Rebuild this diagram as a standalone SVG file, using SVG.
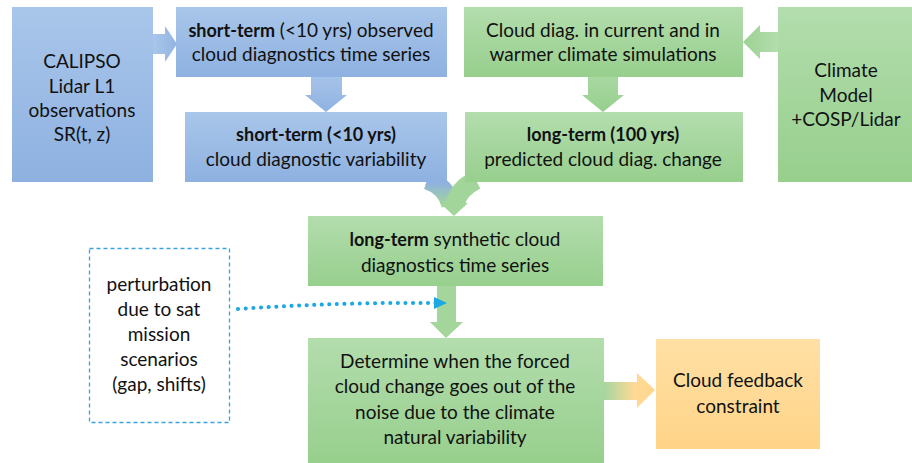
<svg xmlns="http://www.w3.org/2000/svg" width="912" height="463" viewBox="0 0 912 463">
<defs>
<linearGradient id="gBlue" x1="0" y1="0" x2="0" y2="1"><stop offset="0" stop-color="#A9C6EA"/><stop offset="1" stop-color="#8EB1E1"/></linearGradient>
<linearGradient id="gGreen" x1="0" y1="0" x2="0" y2="1"><stop offset="0" stop-color="#B3DDAD"/><stop offset="1" stop-color="#97CF8D"/></linearGradient>
<linearGradient id="gOrange" x1="0" y1="0" x2="0" y2="1"><stop offset="0" stop-color="#FFE0A5"/><stop offset="1" stop-color="#FFD488"/></linearGradient>
<linearGradient id="gBlueArrowH" x1="153" y1="0" x2="177" y2="0" gradientUnits="userSpaceOnUse"><stop offset="0" stop-color="#A9C6EA"/><stop offset="1" stop-color="#92B4E2"/></linearGradient>
<linearGradient id="gBlueArrowV" x1="0" y1="77" x2="0" y2="112" gradientUnits="userSpaceOnUse"><stop offset="0" stop-color="#A6C3E9"/><stop offset="1" stop-color="#8FB2E1"/></linearGradient>
<linearGradient id="gGreenArrowV" x1="0" y1="77" x2="0" y2="112" gradientUnits="userSpaceOnUse"><stop offset="0" stop-color="#A8D8A2"/><stop offset="1" stop-color="#97CF8D"/></linearGradient>
<linearGradient id="gGreenArrowH" x1="778" y1="0" x2="743" y2="0" gradientUnits="userSpaceOnUse"><stop offset="0" stop-color="#B3DDAD"/><stop offset="1" stop-color="#9DD294"/></linearGradient>
<linearGradient id="gMerge" x1="0" y1="182" x2="0" y2="205" gradientUnits="userSpaceOnUse"><stop offset="0" stop-color="#8EB1E1"/><stop offset="1" stop-color="#A2D59A"/></linearGradient>
<linearGradient id="gToOrange" x1="604" y1="0" x2="655" y2="0" gradientUnits="userSpaceOnUse"><stop offset="0" stop-color="#A6D69E"/><stop offset="0.6" stop-color="#FFD996"/><stop offset="1" stop-color="#FFD68C"/></linearGradient>
<style>
text{font-family:Lato,"Open Sans","Liberation Sans",sans-serif;font-size:19px;fill:#111;text-anchor:middle}
.b{font-weight:bold;font-size:18px}
.blue{fill:url(#gBlue)}
.green{fill:url(#gGreen)}
.orange{fill:url(#gOrange)}
</style>
</defs>
<rect width="912" height="463" fill="#fff"/>
<g id="connectors">
<polygon points="153,34 165,34 165,26 177,44 165,62 165,54 153,54" fill="url(#gBlueArrowH)"/>
<polygon points="311,77 342,77 342,95 347,95 326,112 305,95 311,95" fill="url(#gBlueArrowV)"/>
<polygon points="588,77 618,77 618,95 624,95 603,112 582,95 588,95" fill="url(#gGreenArrowV)"/>
<polygon points="778,32 760,32 760,25 743,42 760,59 760,52 778,52" fill="url(#gGreenArrowH)"/>
<path d="M427 180 Q446 186 451 205" fill="none" stroke="url(#gMerge)" stroke-width="19"/>
<path d="M476 180 Q458 189 455 205" fill="none" stroke="#A2D59A" stroke-width="19"/>
<polygon points="440,203 468,203 454,216" fill="#A2D59A"/>
<polygon points="437,285 456,285 456,322 463,322 446,338 430,322 437,322" fill="#A4D69C"/>
<polygon points="604,382 637,382 637,373 655,390 637,408 637,400 604,400" fill="url(#gToOrange)"/>
<path d="M238 309 Q340 302 436 303" fill="none" stroke="#1CA8E0" stroke-width="4" stroke-linecap="round" stroke-dasharray="0.1 7.5"/>
<polygon points="434,297 447,303 434,309" fill="#1CA8E0"/>
</g>
<g id="calipso">
<rect class="blue" x="12" y="7" width="141" height="175"/>
<text x="82" y="68">CALIPSO</text>
<text x="82" y="93">Lidar L1</text>
<text x="82" y="117">observations</text>
<text x="82" y="141">SR(t, z)</text>
</g>
<g id="short-obs">
<rect class="blue" x="176" y="7" width="271" height="70"/>
<text x="311" y="37"><tspan class="b">short-term</tspan> (&lt;10 yrs) observed</text>
<text x="311" y="61">cloud diagnostics time series</text>
</g>
<g id="short-var">
<rect class="blue" x="185" y="112" width="262" height="70"/>
<text x="316" y="141" class="b">short-term (&lt;10 yrs)</text>
<text x="316" y="166">cloud diagnostic variability</text>
</g>
<g id="cloud-diag">
<rect class="green" x="464" y="7" width="279" height="70"/>
<text x="603" y="37">Cloud diag. in current and in</text>
<text x="603" y="61">warmer climate simulations</text>
</g>
<g id="long-pred">
<rect class="green" x="465" y="112" width="278" height="70"/>
<text x="603" y="141" class="b">long-term (100 yrs)</text>
<text x="603" y="166">predicted cloud diag. change</text>
</g>
<g id="climate-model">
<rect class="green" x="778" y="7" width="134" height="175"/>
<text x="846" y="77">Climate</text>
<text x="846" y="102">Model</text>
<text x="846" y="126">+COSP/Lidar</text>
</g>
<g id="synthetic">
<rect class="green" x="308" y="216" width="295" height="70"/>
<text x="455" y="246"><tspan class="b">long-term</tspan> synthetic cloud</text>
<text x="455" y="272">diagnostics time series</text>
</g>
<g id="perturbation">
<rect x="89.5" y="248.5" width="140" height="174" fill="#fff" stroke="#3AA2DD" stroke-width="1.3" stroke-dasharray="4 3"/>
<text x="159" y="291">perturbation</text>
<text x="159" y="316">due to sat</text>
<text x="159" y="341">mission</text>
<text x="159" y="366">scenarios</text>
<text x="159" y="391">(gap, shifts)</text>
</g>
<g id="determine">
<rect class="green" x="308" y="338" width="296" height="125"/>
<text x="455" y="368">Determine when the forced</text>
<text x="455" y="393">cloud change goes out of the</text>
<text x="455" y="419">noise due to the climate</text>
<text x="455" y="444">natural variability</text>
</g>
<g id="feedback">
<rect class="orange" x="656" y="339" width="164" height="110"/>
<text x="738" y="387">Cloud feedback</text>
<text x="738" y="413">constraint</text>
</g>
</svg>
